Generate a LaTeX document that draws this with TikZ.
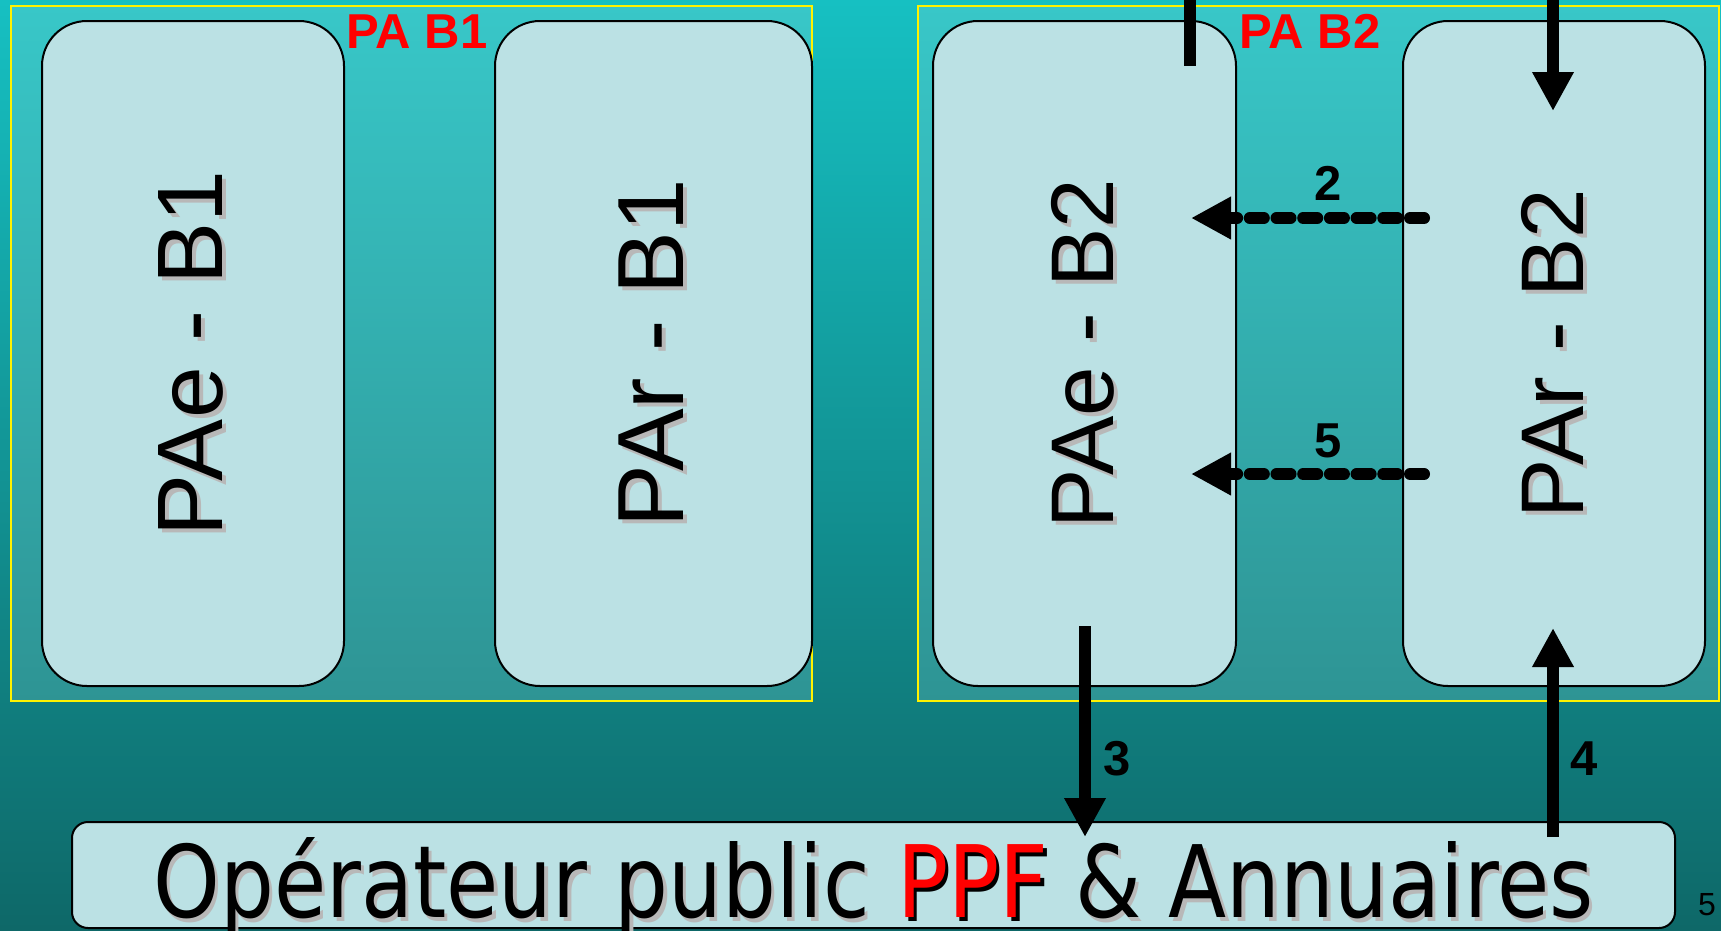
\documentclass[tikz,border=0pt]{standalone}
\usepackage{fontspec}
\setmainfont{Liberation Sans}
\newfontfamily\dejavu{DejaVu Sans}
\usetikzlibrary{arrows.meta}
\definecolor{bgtop}{HTML}{16C0C2}
\definecolor{bgbot}{HTML}{0E6868}
\definecolor{intop}{HTML}{38C7C8}
\definecolor{inbot}{HTML}{2E9494}
\definecolor{boxfill}{HTML}{BBE1E4}
\definecolor{shadowgrey}{HTML}{B8B8B8}
\definecolor{pared}{HTML}{FF0000}
\newcommand\shdw[4]{\makebox[0pt][l]{\kern#2\raisebox{#3}{\color{#1}#4}}#4}
\tikzset{
  pagroup/.style={draw=yellow, line width=2pt, top color=intop, bottom color=inbot,
    minimum width=801pt, minimum height=695pt, inner sep=0pt},
  pabox/.style={draw=black, line width=2pt, fill=boxfill, rounded corners=45pt,
    minimum height=665pt, inner sep=0pt},
  vtext/.style={rotate=90, inner sep=0pt},
  redtitle/.style={text=pared, anchor=base, inner sep=0pt,
    font=\fontsize{49}{55}\selectfont\bfseries},
  numlabel/.style={text=black, anchor=base, inner sep=0pt,
    font=\fontsize{49}{55}\selectfont\bfseries},
  solidarrow/.style={line width=12pt, line cap=butt, -{Triangle[length=39pt,width=39pt]}},
  stubline/.style={line width=12pt, line cap=butt},
  dasharrow/.style={line width=12pt, line cap=round, dash pattern=on 14pt off 12.7pt,
    -{Triangle[length=40pt,width=40pt]}},
}
\begin{document}
\begin{tikzpicture}[x=1pt,y=-1pt]
\useasboundingbox (0,0) rectangle (1721,930);
\shade[top color=bgtop, bottom color=bgbot] (0,0) rectangle (1721,930);
% groups
\node[pagroup] (grpb1) at (411.5,353.5) {};
\node[pagroup] (grpb2) at (1318.5,353.5) {};
% PA boxes
\node[pabox, minimum width=302pt] (paeb1) at (193,353.5) {};
\node[pabox, minimum width=317pt] (parb1) at (653.5,353.5) {};
\node[pabox, minimum width=303pt] (paeb2) at (1084.5,353.5) {};
\node[pabox, minimum width=302pt] (parb2) at (1554,353.5) {};
\node[vtext, font=\fontsize{93}{100}\selectfont] (paeb1t) at (paeb1) {\shdw{shadowgrey}{-4pt}{-4pt}{PAe - B1}};
\node[vtext, font=\fontsize{94}{100}\selectfont] (parb1t) at (parb1) {\shdw{shadowgrey}{-4pt}{-4pt}{PAr - B1}};
\node[vtext, font=\fontsize{89}{100}\selectfont] (paeb2t) at (paeb2) {\shdw{shadowgrey}{-4pt}{-4pt}{PAe - B2}};
\node[vtext, font=\fontsize{89}{100}\selectfont] (parb2t) at (parb2) {\shdw{shadowgrey}{-4pt}{-4pt}{PAr - B2}};
% titles
\node[redtitle] (titleb1) at (417,48) {PA B1};
\node[redtitle] (titleb2) at (1310,48) {PA B2};
% bottom box
\node[draw=black, line width=2pt, fill=boxfill, rounded corners=16pt,
  minimum width=1603pt, minimum height=106pt, inner sep=0pt] (ppf) at (873.5,875) {};
\node[anchor=base, inner sep=0pt, font=\dejavu\fontsize{100}{110}\selectfont] (ppft) at (873.5,917)
  {\resizebox{1440pt}{\height}{\shdw{shadowgrey}{4pt}{-4pt}{Opérateur public}\ {\color{pared}\shdw{black}{4pt}{-4pt}{PPF}}\ \shdw{shadowgrey}{4pt}{-4pt}{\& Annuaires}}};
% connector coordinates
\coordinate (stubtop) at (1190,-5);
\coordinate (stubbot) at (1190,66);
\coordinate (intop) at (1553,-5);
\coordinate (intip) at (1553,111);
\coordinate (d2s) at (1424,218);
\coordinate (d2e) at (1191,218);
\coordinate (d5s) at (1424,474);
\coordinate (d5e) at (1191,474);
\coordinate (a3s) at (1085,626);
\coordinate (a3e) at (1085,837);
\coordinate (a4s) at (1553,837);
\coordinate (a4e) at (1553,628);
% connectors
\draw[stubline] (stubtop) -- (stubbot);
\draw[solidarrow] (intop) -- (intip);
\draw[dasharrow] (d2s) -- (d2e);
\draw[dasharrow] (d5s) -- (d5e);
\draw[solidarrow] (a3s) -- (a3e);
\draw[solidarrow] (a4s) -- (a4e);
% labels
\node[numlabel] (lab2) at (1328,200) {2};
\node[numlabel] (lab5) at (1328,457) {5};
\node[numlabel] (lab3) at (1117,775) {3};
\node[numlabel] (lab4) at (1584,775) {4};
\node[anchor=base, inner sep=0pt, font=\fontsize{32}{36}\selectfont] (pagenum) at (1707,915) {5};
\end{tikzpicture}
\end{document}
